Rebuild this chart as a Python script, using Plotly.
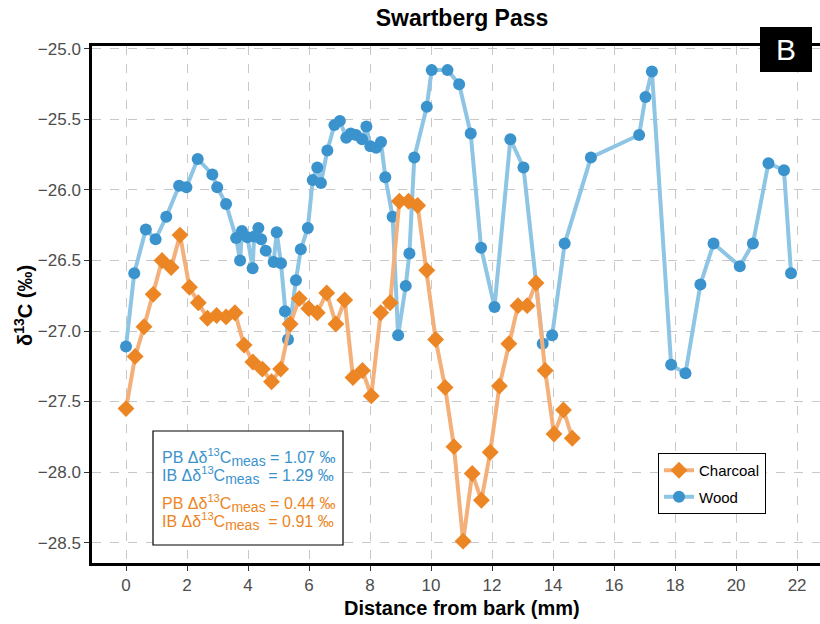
import plotly.graph_objects as go

# Wood series (distance from bark in mm, δ13C in ‰)
wood_x = [0.00, 0.27, 0.65, 0.97, 1.32, 1.74, 1.98, 2.35, 2.83, 2.99, 3.28, 3.61, 3.74, 3.80,
          3.98, 4.15, 4.20, 4.34, 4.43, 4.58, 4.84, 4.94, 5.08, 5.21, 5.31, 5.57, 5.73, 5.96,
          6.12, 6.27, 6.39, 6.60, 6.83, 7.01, 7.22, 7.37, 7.54, 7.74, 7.88, 8.01, 8.20, 8.36,
          8.50, 8.74, 8.92, 9.17, 9.29, 9.45, 9.86, 10.02, 10.54, 10.92, 11.30, 11.64, 12.08,
          12.60, 13.03, 13.66, 13.97, 14.38, 15.24, 16.82, 17.03, 17.24, 17.87, 18.34, 18.83,
          19.26, 20.12, 20.55, 21.06, 21.57, 21.80]
wood_y = [-27.11, -26.59, -26.28, -26.35, -26.19, -25.97, -25.98, -25.78, -25.89, -25.98, -26.10,
          -26.34, -26.50, -26.29, -26.335, -26.555, -26.33, -26.27, -26.35, -26.43, -26.51, -26.30,
          -26.52, -26.86, -27.06, -26.64, -26.42, -26.27, -25.93, -25.84, -25.95, -25.72, -25.54,
          -25.51, -25.63, -25.60, -25.61, -25.64, -25.55, -25.69, -25.70, -25.66, -25.91, -26.19,
          -27.03, -26.68, -26.45, -25.77, -25.41, -25.15, -25.15, -25.25, -25.60, -26.41, -26.83,
          -25.64, -25.84, -27.09, -27.03, -26.38, -25.77, -25.61, -25.34, -25.16, -27.24, -27.30,
          -26.67, -26.38, -26.54, -26.38, -25.81, -25.86, -26.59]

# Charcoal series
char_x = [0.00, 0.30, 0.59, 0.89, 1.18, 1.48, 1.77, 2.08, 2.37, 2.67, 2.97, 3.28, 3.57, 3.87,
          4.16, 4.47, 4.77, 5.07, 5.38, 5.68, 5.99, 6.27, 6.58, 6.88, 7.17, 7.44, 7.75, 8.04,
          8.35, 8.66, 8.96, 9.26, 9.56, 9.86, 10.15, 10.46, 10.75, 11.05, 11.35, 11.65, 11.94,
          12.24, 12.55, 12.85, 13.15, 13.44, 13.74, 14.03, 14.34, 14.63]
char_y = [-27.55, -27.18, -26.97, -26.74, -26.50, -26.55, -26.32, -26.69, -26.80, -26.91, -26.89,
          -26.90, -26.87, -27.10, -27.22, -27.27, -27.36, -27.27, -26.95, -26.77, -26.84, -26.87,
          -26.73, -26.95, -26.78, -27.33, -27.28, -27.46, -26.87, -26.80, -26.08, -26.08, -26.11,
          -26.57, -27.06, -27.40, -27.82, -28.49, -28.01, -28.20, -27.86, -27.39, -27.09, -26.82,
          -26.82, -26.66, -27.28, -27.73, -27.56, -27.76]

x_ticks = [0, 2, 4, 6, 8, 10, 12, 14, 16, 18, 20, 22]
y_ticks = [-25.0, -25.5, -26.0, -26.5, -27.0, -27.5, -28.0, -28.5]

stats_wood = [("PB", "1.07"), ("IB", "1.29")]
stats_char = [("PB", "0.44"), ("IB", "0.91")]

BLUE_M = "#3a93cc"
BLUE_L = "#8ec5e5"
ORANGE_M = "#ec8523"
ORANGE_L = "#f3b07a"
FONT = "Liberation Sans, Arial, sans-serif"

# plot-area geometry in pixels
L, R, T, B = 92, 820, 46, 563
PW, PH = R - L, B - T

def px(xp):
    return (xp - L) / PW

def py(yp):
    return (B - yp) / PH

fig = go.Figure()
fig.add_trace(go.Scatter(
    x=wood_x, y=wood_y, mode="lines+markers", name="Wood", legendrank=2, legendgroup="w",
    line=dict(color=BLUE_L, width=4),
    marker=dict(color=BLUE_M, size=12, symbol="circle"),
))
fig.add_trace(go.Scatter(
    x=char_x, y=char_y, mode="lines+markers", name="Charcoal", legendrank=1, legendgroup="c",
    line=dict(color=ORANGE_L, width=4),
    marker=dict(color=ORANGE_M, size=13, symbol="diamond"),
))

# annotation box
fig.add_shape(type="rect", xref="paper", yref="paper", x0=px(153), x1=px(343),
              y0=py(545), y1=py(431),
              line=dict(color="black", width=1.2), fillcolor="white", layer="above")

ys_px = [457, 475, 503, 521]
lines = [(s, BLUE_M) for s in stats_wood] + [(s, ORANGE_M) for s in stats_char]
for i, ((lab, val), col) in enumerate(lines):
    sp = " " if lab == "PB" else "  "
    fig.add_annotation(
        x=px(160), y=py(ys_px[i]), xref="paper", yref="paper", xanchor="left", yanchor="middle",
        text=(f"{lab} Δδ<sup>13</sup>C<sub><span style='font-size:14px'>meas</span></sub>"
              f"{sp}= {val} ‰"),
        showarrow=False, font=dict(family=FONT, size=16, color=col),
    )

# B label
fig.add_shape(type="rect", xref="paper", yref="paper",
              x0=px(760), x1=px(812), y0=py(72), y1=py(27),
              fillcolor="black", line=dict(width=0), layer="above")
fig.add_annotation(
    x=px(786), y=py(50), xref="paper", yref="paper",
    text="B", showarrow=False, xanchor="center", yanchor="middle",
    font=dict(family=FONT, size=30, color="white"),
)

# axis titles
fig.add_annotation(
    x=px(462), y=py(608), xref="paper", yref="paper", text="Distance from bark (mm)",
    showarrow=False, xanchor="center", yanchor="middle",
    font=dict(family=FONT, size=20, color="black", weight="bold"),
)
fig.add_annotation(
    x=px(23), y=py(306), xref="paper", yref="paper", text="δ<sup>13</sup>C (‰)",
    showarrow=False, xanchor="center", yanchor="middle", textangle=-90,
    font=dict(family=FONT, size=20, color="black", weight="bold"),
)

fig.update_layout(
    width=820, height=624,
    margin=dict(l=L, r=820 - R, t=T, b=624 - B, autoexpand=False),
    plot_bgcolor="white", paper_bgcolor="white",
    font=dict(family=FONT),
    title=dict(text="Swartberg Pass", x=462 / 820, xanchor="center", y=1 - 18 / 624,
               yanchor="middle", font=dict(family=FONT, size=23, color="black", weight="bold")),
    legend=dict(x=px(658), y=py(453), xanchor="left", yanchor="top",
                bordercolor="black", borderwidth=1, bgcolor="white", tracegroupgap=4,
                font=dict(family=FONT, size=15, color="black")),
    showlegend=True,
)
fig.update_xaxes(
    range=[-1.115, 22.75], tickvals=x_ticks, ticktext=[str(t) for t in x_ticks],
    showgrid=True, gridcolor="#c8c8c8", griddash="dash", gridwidth=1,
    showline=True, linecolor="black", linewidth=2.5, mirror=True,
    ticks="outside", ticklen=5, tickcolor="#333333", automargin=False,
    tickfont=dict(family=FONT, size=17, color="#4d4d4d"), zeroline=False,
)
fig.update_yaxes(
    range=[-28.645, -24.979], tickvals=y_ticks, ticktext=[f"−{abs(t):.1f}" for t in y_ticks],
    showgrid=True, gridcolor="#c8c8c8", griddash="dash", gridwidth=1,
    showline=True, linecolor="black", linewidth=2.5, automargin=False,
    ticks="outside", ticklen=5, tickcolor="#333333",
    tickfont=dict(family=FONT, size=17, color="#4d4d4d"), zeroline=False,
)

fig.write_html(
    "out.html",
    config={"displayModeBar": False},
    post_script="document.body.style.margin='0';document.body.style.overflow='hidden';",
)
